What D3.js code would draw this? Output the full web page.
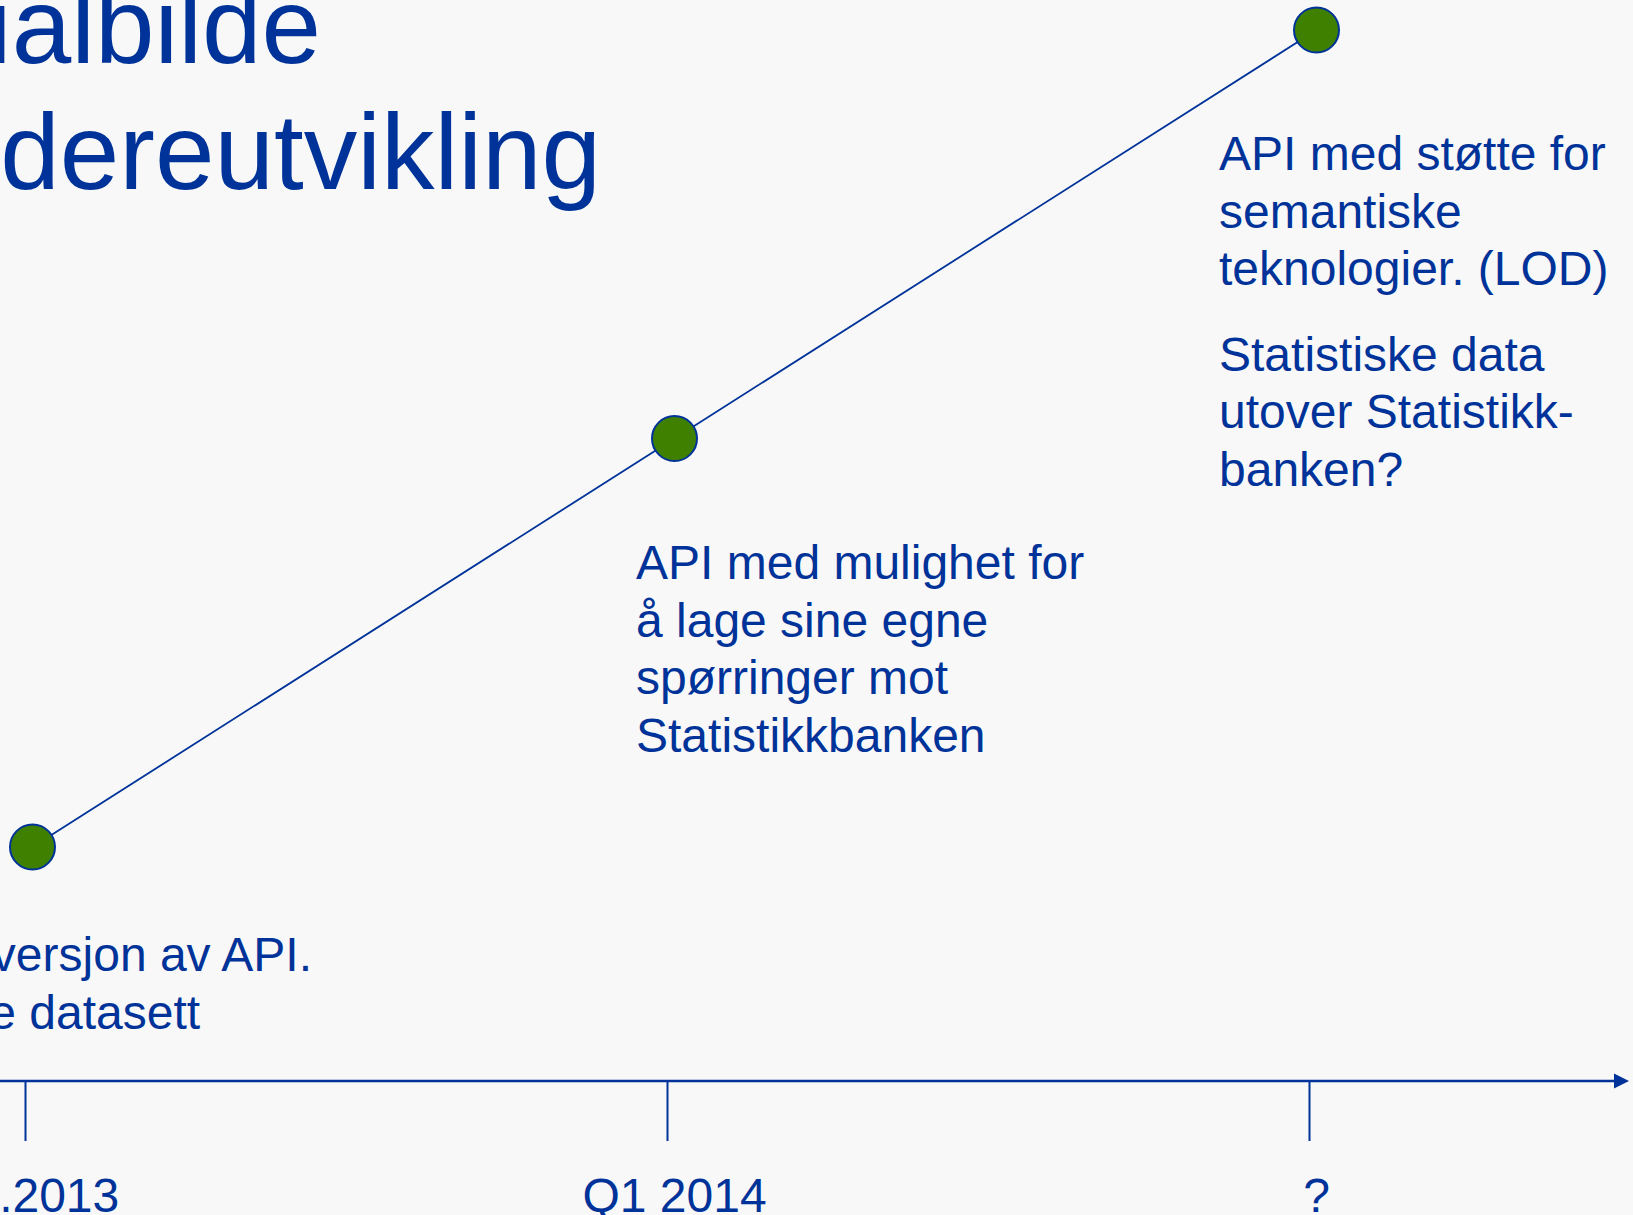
<!DOCTYPE html>
<html>
<head>
<meta charset="utf-8">
<script src="https://cdn.jsdelivr.net/npm/d3@7"></script>
<style>
    body { margin: 0; background: #f8f8f8; overflow: hidden; }
    text { font-family: "Liberation Sans", Arial, sans-serif; fill: #003399; }
</style>
</head>
<body>
<div id="chart"></div>
<script>
"use strict";

// milestones on the time axis
const milestones = ["10.2013", "Q1 2014", "?"];
// step on the development ladder for each milestone
const levels = [0, 1, 2];
// text under each milestone point (paragraphs of lines)
const descriptions = [
    [["Første versjon av API.", "Utvalgte datasett"]],
    [["API med mulighet for", "å lage sine egne", "spørringer mot", "Statistikkbanken"]],
    [["API med støtte for", "semantiske", "teknologier. (LOD)"],
     ["Statistiske data", "utover Statistikk-", "banken?"]]
];
const titleLines = ["Potensialbilde", "videreutvikling"];

const width = 1633, height = 1215;
const blue = "#003399";
const green = "#408000";

const svg = d3.select("#chart").append("svg")
    .attr("width", width)
    .attr("height", height);

svg.append("rect")
    .attr("width", width).attr("height", height)
    .attr("fill", "#f8f8f8");

// x: evenly spaced milestones, y: level
const x = d3.scalePoint().domain(milestones).range([25, 1309]);
const y = d3.scaleLinear().domain([0, 2]).range([847, 30]);
const dotShift = 7.5;
const axisY = 1081;
const fontSize = "48px";

// title (cut off at the left edge, like the slide)
const titleEnds = [321, 601];
svg.selectAll("text.title")
    .data(titleLines)
    .enter().append("text")
    .attr("class", "title")
    .attr("x", (d, i) => titleEnds[i])
    .attr("y", (d, i) => 63 + i * 126)
    .attr("text-anchor", "end")
    .style("font-size", "107px")
    .text(d => d);

// time axis with arrow
svg.append("defs").append("marker")
    .attr("id", "arrow")
    .attr("viewBox", "0 0 10 10")
    .attr("refX", 0).attr("refY", 5)
    .attr("markerWidth", 6).attr("markerHeight", 6.4)
    .attr("markerUnits", "strokeWidth")
    .attr("orient", "auto")
    .append("path")
    .attr("d", "M0,0 L10,5 L0,10 Z")
    .attr("fill", blue);

svg.append("line")
    .attr("x1", 0).attr("x2", 1614)
    .attr("y1", axisY).attr("y2", axisY)
    .attr("stroke", blue)
    .attr("stroke-width", 2.5)
    .attr("marker-end", "url(#arrow)");

const axis = d3.axisBottom(x).tickSize(60).tickPadding(0).tickFormat("");
const gAxis = svg.append("g")
    .attr("transform", `translate(0,${axisY})`)
    .call(axis);
gAxis.select(".domain").remove();
gAxis.selectAll(".tick line").attr("stroke", blue).attr("stroke-width", 2);

// tick labels, centred under the points
svg.selectAll("text.tick-label")
    .data(milestones)
    .enter().append("text")
    .attr("class", "tick-label")
    .attr("x", d => x(d) + dotShift)
    .attr("y", 1212)
    .attr("text-anchor", "middle")
    .style("font-size", fontSize)
    .text(d => d);

// connecting line and points
const points = milestones.map((m, i) => [x(m) + dotShift, y(levels[i])]);

svg.append("path")
    .attr("d", d3.line()(points))
    .attr("fill", "none")
    .attr("stroke", blue)
    .attr("stroke-width", 1.8);

svg.selectAll("circle")
    .data(points)
    .enter().append("circle")
    .attr("cx", d => d[0])
    .attr("cy", d => d[1])
    .attr("r", 22.5)
    .attr("fill", green)
    .attr("stroke", blue)
    .attr("stroke-width", 2);

// descriptions
const lineH = 57.5, paraGap = 28;
const labelPos = [
    { endFirst: 312, y: 971 },
    { x: 636, y: 579 },
    { x: 1219, y: 170 }
];

descriptions.forEach((paras, i) => {
    const g = svg.append("g").attr("class", "desc");
    let yy = labelPos[i].y;
    paras.forEach(lines => {
        lines.forEach(line => {
            g.append("text")
                .attr("y", yy)
                .style("font-size", fontSize)
                .text(line);
            yy += lineH;
        });
        yy += paraGap;
    });
    let lx = labelPos[i].x;
    if (lx === undefined) {
        // first label runs off the left edge: align its first line's end
        const first = g.select("text").node();
        lx = labelPos[i].endFirst - first.getComputedTextLength();
    }
    g.selectAll("text").attr("x", lx);
});
</script>
</body>
</html>
